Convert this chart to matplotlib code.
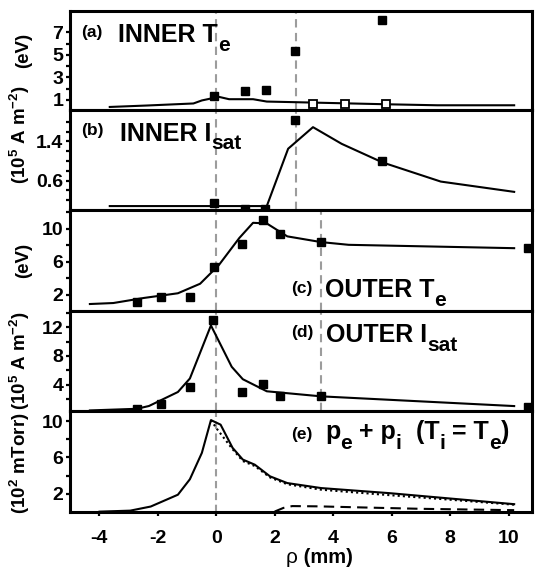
import matplotlib
matplotlib.use('Agg')
import matplotlib.pyplot as plt
from matplotlib import font_manager

plt.rcParams['font.family'] = ['Liberation Sans', 'DejaVu Sans']
plt.rcParams['font.weight'] = 'bold'
plt.rcParams['axes.unicode_minus'] = False
plt.rcParams['mathtext.fontset'] = 'custom'
plt.rcParams['mathtext.rm'] = 'Liberation Sans:bold'
plt.rcParams['mathtext.bf'] = 'Liberation Sans:bold'
plt.rcParams['mathtext.it'] = 'Liberation Sans:bold'
plt.rcParams['mathtext.default'] = 'rm'

names = {f.name for f in font_manager.fontManager.ttflist}
TICKFAM = ['Liberation Sans Narrow', 'Liberation Sans'] if 'Liberation Sans Narrow' in names else ['Liberation Sans']
TICKSIZE = 15 if 'Liberation Sans Narrow' in names else 14

# ---------------- data ----------------
# (a) INNER Te
a_line_rho = [-3.64, -2.36, -0.78, -0.49, 0.09, 0.44, 1.26, 1.73, 2.78, 4.29, 5.81, 7.56, 10.19]
a_line_te = [0.37, 0.50, 0.68, 0.95, 1.27, 1.06, 1.06, 0.85, 0.79, 0.70, 0.61, 0.52, 0.52]
a_pts_rho = [-0.08, 0.98, 1.69, 2.68, 5.67]
a_pts_te = [1.30, 1.81, 1.87, 5.35, 8.14]
a_open_rho = [3.30, 4.41, 5.82]
a_open_te = [0.64, 0.64, 0.64]

# (b) INNER Isat
b_line_rho = [-3.64, 1.73, 2.46, 3.31, 4.29, 5.69, 7.68, 10.19]
b_line_isat = [0.08, 0.08, 1.25, 1.69, 1.35, 0.97, 0.58, 0.37]
b_pts_rho = [-0.08, 0.99, 1.67, 2.68, 5.67]
b_pts_isat = [0.135, 0.03, 0.03, 1.83, 0.99]

# (c) OUTER Te
c_line_rho = [-4.32, -3.52, -2.47, -1.31, -0.55, 0.09, 0.79, 1.26, 1.73, 2.43, 3.59, 4.53, 10.19]
c_line_te = [0.85, 0.97, 1.59, 2.16, 3.32, 5.59, 8.89, 10.74, 10.66, 9.09, 8.39, 8.06, 7.65]
c_pts_rho = [-2.71, -1.89, -0.88, -0.08, 0.89, 1.59, 2.19, 3.59, 10.68]
c_pts_te = [1.13, 1.67, 1.75, 5.38, 8.14, 11.07, 9.38, 8.39, 7.65]

# (d) OUTER Isat
d_line_rho = [-4.32, -2.71, -2.30, -1.31, -0.90, -0.18, 0.53, 0.91, 1.73, 3.59, 10.19]
d_line_isat = [0.38, 0.61, 1.00, 2.96, 4.85, 12.28, 6.49, 4.75, 3.06, 2.35, 0.99]
d_pts_rho = [-2.71, -1.89, -0.90, -0.11, 0.89, 1.59, 2.19, 3.57, 10.65]
d_pts_isat = [0.61, 1.32, 3.67, 12.99, 2.96, 4.14, 2.35, 2.35, 0.85]

# (e) pe + pi
e_tot_rho = [-3.99, -2.94, -2.24, -1.31, -0.90, -0.49, -0.18, 0.15, 0.56, 0.91, 1.32, 1.84, 2.43, 3.59, 5.93, 10.19]
e_tot_p = [0.04, 0.15, 0.60, 1.90, 3.60, 6.50, 10.10, 9.60, 7.05, 5.76, 5.20, 3.92, 3.18, 2.63, 2.07, 0.86]
e_out_rho = [-0.18, 0.02, 0.56, 0.91, 1.32, 1.84, 2.43, 3.59, 5.93, 8.00, 10.19]
e_out_p = [10.10, 9.15, 6.90, 5.60, 5.05, 3.80, 3.05, 2.45, 1.85, 1.35, 0.80]
e_in_rho = [2.00, 2.30, 2.60, 3.50, 5.00, 7.00, 10.19]
e_in_p = [0.05, 0.45, 0.65, 0.62, 0.50, 0.35, 0.20]

# separatrix / marker positions (vertical dashed lines)
vlines_inner = [0.0, 2.73]
vlines_outer = [0.0, 3.6]
vlines_e = [0.0]

x_ticks = [-4, -2, 0, 2, 4, 6, 8, 10]

# ---------------- figure ----------------
W, H = 536, 571
fig = plt.figure(figsize=(W / 100, H / 100), dpi=100)
bounds = [11, 110, 210, 311, 411, 512]
L, R = 70, 532
XLIM = (-5.0, 10.8)

axes = []
for i in range(5):
    top, bot = bounds[i], bounds[i + 1]
    ax = fig.add_axes([L / W, 1 - bot / H, (R - L) / W, (bot - top) / H])
    ax.set_xlim(*XLIM)
    for sp in ax.spines.values():
        sp.set_linewidth(2.2)
    ax.tick_params(axis='y', which='both', direction='out', length=3.2, width=1.6,
                   labelsize=TICKSIZE, pad=1.5)
    if i < 4:
        ax.tick_params(axis='x', which='both', bottom=False, labelbottom=False)
    axes.append(ax)

ax_a, ax_b, ax_c, ax_d, ax_e = axes
grey = '#9c9c9c'
lw = 1.5
ms = 5.2

def vl(ax, xs, dashes=(4, 2.6)):
    for x in xs:
        ax.axvline(x, color=grey, lw=1.5, dashes=dashes, zorder=1)

# (a)
vl(ax_a, vlines_inner)
ax_a.plot(a_line_rho, a_line_te, color='black', lw=lw, zorder=2)
ax_a.plot(a_pts_rho, a_pts_te, 's', color='black', ms=ms, zorder=3, clip_on=False)
ax_a.plot(a_open_rho, a_open_te, 's', mfc='white', mec='black', mew=1.3, ms=ms, zorder=3)
ax_a.set_ylim(0.1, 8.9)
ax_a.set_yticks([1, 3, 5, 7])
ax_a.set_yticks([2, 4, 6], minor=True)

# (b)
vl(ax_b, vlines_inner)
ax_b.plot(b_line_rho, b_line_isat, color='black', lw=lw, zorder=2)
ax_b.plot(b_pts_rho, b_pts_isat, 's', color='black', ms=ms, zorder=3, clip_on=False)
ax_b.set_ylim(0.0, 2.04)
ax_b.set_yticks([0.6, 1.4])
ax_b.set_yticklabels(['0.6', '1.4'])
ax_b.set_yticks([0.2, 0.4, 0.8, 1.0, 1.2, 1.6, 1.8], minor=True)

# (c)
vl(ax_c, vlines_outer)
ax_c.plot(c_line_rho, c_line_te, color='black', lw=lw, zorder=2)
ax_c.plot(c_pts_rho, c_pts_te, 's', color='black', ms=ms, zorder=3, clip_on=False)
ax_c.set_ylim(0.0, 12.3)
ax_c.set_yticks([2, 6, 10])
ax_c.set_yticks([4, 8, 12], minor=True)

# (d)
vl(ax_d, vlines_outer)
ax_d.plot(d_line_rho, d_line_isat, color='black', lw=lw, zorder=2)
ax_d.plot(d_pts_rho, d_pts_isat, 's', color='black', ms=ms, zorder=3, clip_on=False)
ax_d.set_ylim(0.3, 14.3)
ax_d.set_yticks([4, 8, 12])
ax_d.set_yticks([2, 6, 10, 14], minor=True)

# (e)
vl(ax_e, vlines_e, dashes=(3.5, 2.2))
ax_e.plot(e_tot_rho, e_tot_p, color='black', lw=lw, zorder=3)
ax_e.plot(e_out_rho, e_out_p, color='black', lw=lw, ls=(0, (1, 1.5)), zorder=2)
ax_e.plot(e_in_rho, e_in_p, color='black', lw=lw, ls=(0, (5, 3)), zorder=2)
ax_e.set_ylim(0.0, 11.1)
ax_e.set_yticks([2, 6, 10])
ax_e.set_yticks([4, 8], minor=True)
ax_e.set_xticks(x_ticks)
ax_e.tick_params(axis='x', which='both', direction='out', length=3, width=1.6,
                 labelsize=TICKSIZE, pad=10)

for ax in axes:
    for lab in ax.get_yticklabels() + ax.get_xticklabels():
        lab.set_family(TICKFAM)
        lab.set_fontweight('bold')

# y labels
ylabels = ['(eV)', r'(10$^5$ A m$^{-2}$)', '(eV)', r'(10$^5$ A m$^{-2}$)', r'(10$^2$ mTorr)']
ypos = [0.60, 0.75, 0.5, 0.5, 0.48]
for ax, lab, yp in zip(axes, ylabels, ypos):
    ax.set_ylabel(lab, fontsize=13.5, fontweight='bold')
    ax.yaxis.set_label_coords((32 - L) / (R - L), yp)

renderer = fig.canvas.get_renderer()

def text_run(x_px, base_px, parts, weight='bold'):
    x = x_px
    for item in parts:
        s, size, dy = item[:3]
        wt = item[3] if len(item) > 3 else weight
        t = fig.text(x / W, 1 - (base_px + dy) / H, s, fontsize=size, fontweight=wt,
                     ha='left', va='baseline')
        bb = t.get_window_extent(renderer)
        x += bb.width

# x label: regular rho + bold (mm)
text_run(286, 563, [('ρ', 15, 0, 'normal'), (' (mm)', 14.5, 0, 'bold')])

BIG, SUB, SMALL = 18, 15, 12.5
text_run(81, 37.5, [('(a)', SMALL, 0)])
text_run(118, 42, [('INNER T', BIG, 0), ('e', SUB, 9)])
text_run(81, 134.5, [('(b)', SMALL, 0)])
text_run(119.5, 141, [('INNER I', BIG, 0), ('sat', SUB, 8.5)])
text_run(291, 293, [('(c)', SMALL, 0)])
text_run(325, 296.6, [('OUTER T', BIG, 0), ('e', SUB, 9.3)])
text_run(291, 337, [('(d)', SMALL, 0)])
text_run(326, 341.7, [('OUTER I', BIG, 0), ('sat', SUB, 9.5)])
text_run(291, 438.5, [('(e)', SMALL, 0)])
text_run(325, 439, [('p', BIG, 0), ('e', SUB, 10), (' + p', BIG, 0), ('i', SUB, 10),
                    ('  (T', BIG, 0), ('i', SUB, 10), (' = T', BIG, 0), ('e', SUB, 10),
                    (')', BIG, 0)])

fig.savefig('out.png', dpi=100)
